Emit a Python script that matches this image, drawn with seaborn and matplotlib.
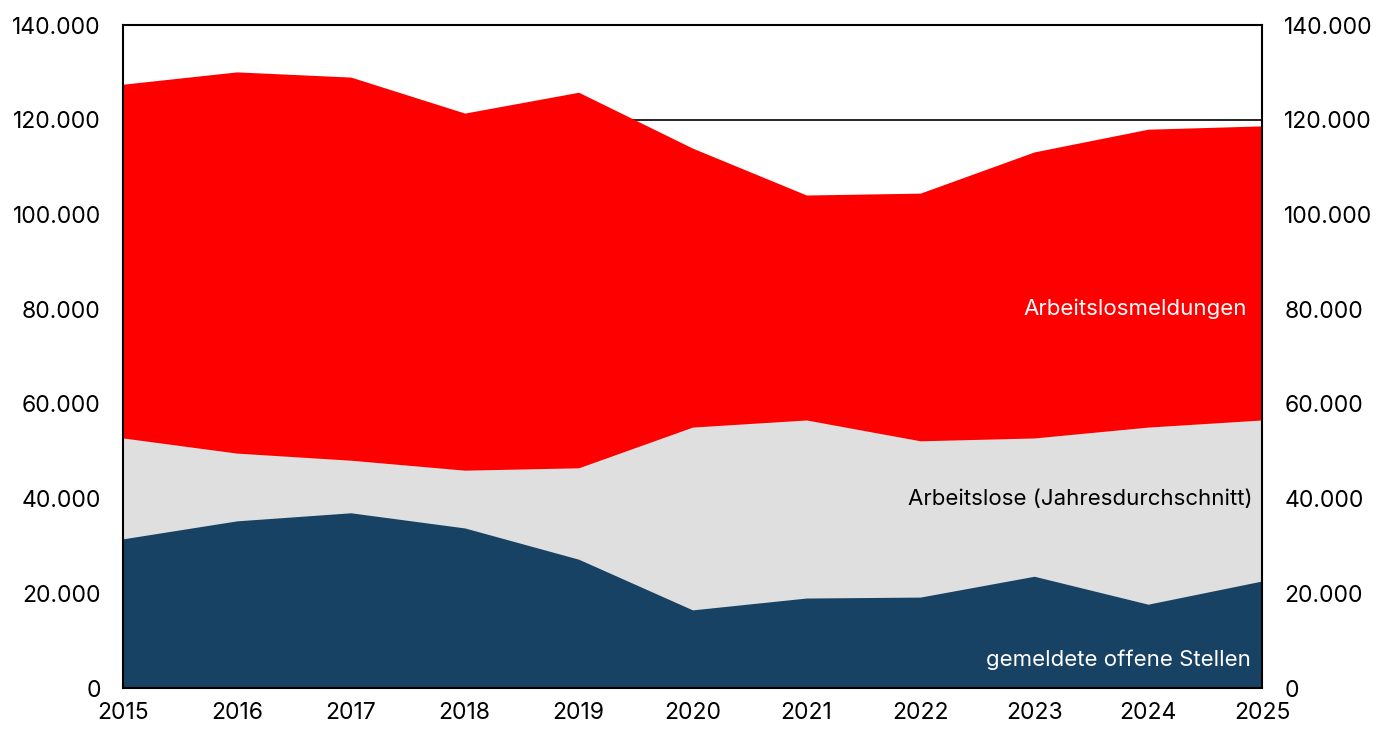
import matplotlib
matplotlib.use("Agg")
import matplotlib.pyplot as plt
import matplotlib.ticker as mticker
import numpy as np
import pandas as pd
import seaborn as sns

years = [2015, 2016, 2017, 2018, 2019, 2020, 2021, 2022, 2023, 2024, 2025]
arbeitslosmeldungen = [127500, 130100, 129000, 121400, 125800, 114000, 104100, 104500, 113200, 118000, 118700]
arbeitslose = [52800, 49600, 48100, 46000, 46500, 55100, 56600, 52200, 52800, 55100, 56600]
offene_stellen = [31500, 35300, 37000, 33800, 27200, 16500, 19000, 19200, 23600, 17700, 22600]

df = pd.DataFrame({
    "Jahr": years,
    "Arbeitslosmeldungen": arbeitslosmeldungen,
    "Arbeitslose": arbeitslose,
    "Stellen": offene_stellen,
})

sns.set_style("white")
plt.rcParams["font.family"] = ["Inter", "DejaVu Sans"]
plt.rcParams["text.color"] = "black"
plt.rcParams["xtick.color"] = "black"
plt.rcParams["ytick.color"] = "black"

fig = plt.figure(figsize=(13.92, 7.31), dpi=100)
ax = fig.add_axes([0.0884, 0.0588, 0.8182, 0.907])

red = "#ff0000"
grey = "#dfdfdf"
navy = "#174263"

for col, color in [("Arbeitslosmeldungen", red), ("Arbeitslose", grey), ("Stellen", navy)]:
    sns.lineplot(data=df, x="Jahr", y=col, color=color, linewidth=0, ax=ax, zorder=3)
    ax.fill_between(df["Jahr"], 0, df[col], color=color, linewidth=0, zorder=3)

ax.set_xlim(2015, 2025)
ax.set_ylim(0, 140000)
ax.set_xticks(years)
ax.set_yticks(np.arange(0, 140001, 20000))
fmt = mticker.FuncFormatter(lambda v, p: f"{int(v):,}".replace(",", "."))
ax.yaxis.set_major_formatter(fmt)
ax.set_xlabel("")
ax.set_ylabel("")
ax.grid(axis="y", color="black", linewidth=1.2, zorder=1)
ax.set_axisbelow(True)
for s in ax.spines.values():
    s.set_color("black")
    s.set_linewidth(1.5)
    s.set_zorder(5)
ax.tick_params(axis="x", direction="out", length=6, width=1.2, color="#333333", labelsize=16.5, pad=4)
ax.tick_params(axis="y", length=0, labelsize=16.5, pad=16)

ax2 = ax.twinx()
ax2.set_ylim(0, 140000)
ax2.set_yticks(np.arange(0, 140001, 20000))
ax2.yaxis.set_major_formatter(fmt)
ax2.tick_params(axis="y", length=0, labelsize=16.5, pad=16)
for s in ax2.spines.values():
    s.set_visible(False)

ax.text(2024.87, 80000, "Arbeitslosmeldungen", color="white", fontsize=16, ha="right", va="center", zorder=6)
ax.text(2024.92, 40000, "Arbeitslose (Jahresdurchschnitt)", color="black", fontsize=16, ha="right", va="center", zorder=6)
ax.text(2024.9, 6000, "gemeldete offene Stellen", color="white", fontsize=16, ha="right", va="center", zorder=6)

fig.savefig("out.png", dpi=100)
